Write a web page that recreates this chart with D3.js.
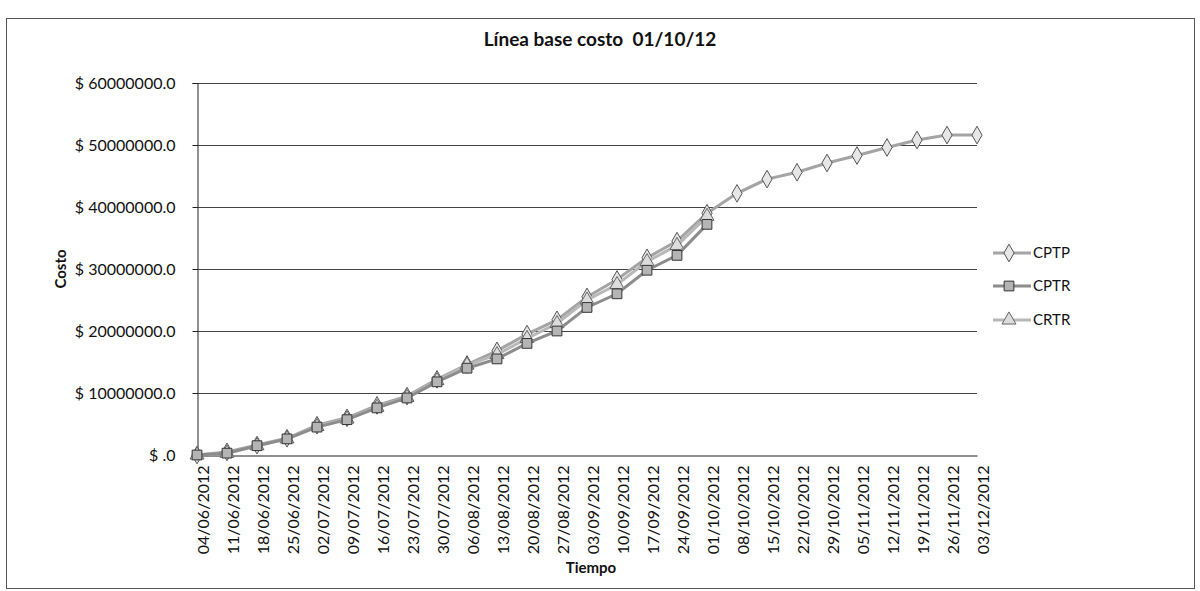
<!DOCTYPE html>
<html>
<head>
<meta charset="utf-8">
<script src="https://cdn.jsdelivr.net/npm/d3@7/dist/d3.min.js"></script>
<style>
    body { margin: 0; background: #fff; }
    svg text { font-family: Lato, "Open Sans", sans-serif; fill: #111; }
</style>
</head>
<body>
<svg id="chart" width="1200" height="591"></svg>
<script>
// weekly cut-off dates (category axis)
var DATES = ['04/06/2012', '11/06/2012', '18/06/2012', '25/06/2012', '02/07/2012', '09/07/2012', '16/07/2012',
    '23/07/2012', '30/07/2012', '06/08/2012', '13/08/2012', '20/08/2012', '27/08/2012', '03/09/2012',
    '10/09/2012', '17/09/2012', '24/09/2012', '01/10/2012', '08/10/2012', '15/10/2012', '22/10/2012',
    '29/10/2012', '05/11/2012', '12/11/2012', '19/11/2012', '26/11/2012', '03/12/2012'];

// costs in pesos
var CPTP = [0, 500000, 1600000, 2700000, 4800000, 6000000, 8000000, 9500000, 12200000, 14600000, 16800000,
    19500000, 21800000, 25500000, 28300000, 31800000, 34500000, 39000000, 42200000, 44500000, 45600000,
    47100000, 48300000, 49600000, 50800000, 51600000, 51600000];
var CPTR = [0, 300000, 1500000, 2600000, 4500000, 5700000, 7600000, 9200000, 11800000, 14000000, 15500000,
    18000000, 20000000, 23800000, 26000000, 29800000, 32200000, 37200000];
var CRTR = [0, 300000, 1500000, 2600000, 4600000, 5800000, 7700000, 9300000, 12000000, 14500000, 16200000,
    18800000, 21200000, 25000000, 27500000, 31200000, 33800000, 38500000];

var SERIES_NAMES = ['CPTP', 'CPTR', 'CRTR'];
var Y_TICKS = [0, 10000000, 20000000, 30000000, 40000000, 50000000, 60000000];

(function () {
    var svg = d3.select('#chart');
    var _plot = {left: 197, right: 977, top: 83, bottom: 455};

    var x = d3.scalePoint().domain(DATES).range([_plot.left, _plot.right]);
    var y = d3.scaleLinear().domain([0, 60000000]).range([_plot.bottom, _plot.top]);

    var _styles = {
        CPTP: {line: '#a4a4a4', fill: '#e6e6e6', stroke: '#555', shape: d3.symbolDiamond, size: 90},
        CPTR: {line: '#8c8c8c', fill: '#b4b4b4', stroke: '#333', shape: d3.symbolSquare, size: 95},
        CRTR: {line: '#b8b8b8', fill: '#dcdcdc', stroke: '#666', shape: d3.symbolTriangle, size: 85}
    };

    var _fmtCost = function (v) {
        return v === 0 ? '$ .0' : '$ ' + v.toFixed(1);
    };

    // chart frame
    svg.append('rect')
        .attr('x', 6.5).attr('y', 18.5)
        .attr('width', 1188).attr('height', 570)
        .attr('fill', '#fff').attr('stroke', '#555').attr('stroke-width', 1);

    svg.append('text')
        .attr('x', 600).attr('y', 46)
        .attr('text-anchor', 'middle')
        .style('font-size', '19px').style('font-weight', 'bold')
        .style('white-space', 'pre')
        .text('Línea base costo  01/10/12');

    // horizontal gridlines
    svg.append('g').selectAll('line')
        .data(Y_TICKS.slice(1))
        .enter().append('line')
        .attr('x1', _plot.left).attr('x2', _plot.right)
        .attr('y1', function (d) { return Math.round(y(d)) + 0.5; })
        .attr('y2', function (d) { return Math.round(y(d)) + 0.5; })
        .attr('stroke', '#444').attr('stroke-width', 1);

    // value axis
    var yAxis = svg.append('g')
        .attr('transform', 'translate(' + (_plot.left + 0.5) + ',0)')
        .call(d3.axisLeft(y).tickValues(Y_TICKS).tickFormat(_fmtCost).tickSize(5).tickPadding(17));
    yAxis.select('.domain').attr('stroke', '#222');
    yAxis.selectAll('.tick line').attr('stroke', '#222');
    yAxis.selectAll('text').style('font-size', '16px').attr('fill', '#111');

    // category axis, labels turned vertical
    var xAxis = svg.append('g')
        .attr('transform', 'translate(0,' + (_plot.bottom + 0.5) + ')')
        .call(d3.axisBottom(x).tickSize(0).tickPadding(0));
    xAxis.select('.domain').attr('stroke', '#222');
    xAxis.selectAll('text')
        .style('font-size', '16px').attr('fill', '#111')
        .attr('text-anchor', 'end')
        .attr('dy', null)
        .attr('y', 0)
        .attr('transform', 'translate(11,10) rotate(-90)');

    svg.append('text')
        .attr('transform', 'translate(66,' + ((_plot.top + _plot.bottom) / 2) + ') rotate(-90)')
        .attr('text-anchor', 'middle')
        .style('font-size', '15px').style('font-weight', 'bold')
        .text('Costo');

    svg.append('text')
        .attr('x', 591).attr('y', 573)
        .attr('text-anchor', 'middle')
        .style('font-size', '15px').style('font-weight', 'bold')
        .text('Tiempo');

    var _drawSeries = function (name, values) {
        var st = _styles[name];
        var pts = values.map(function (v, i) { return [x(DATES[i]), y(v)]; });
        var grp = svg.append('g').attr('class', 'series_' + name);
        grp.append('path')
            .attr('d', d3.line()(pts))
            .attr('fill', 'none')
            .attr('stroke', st.line)
            .attr('stroke-width', 3);
        grp.selectAll('path.mark')
            .data(pts)
            .enter().append('path')
            .attr('class', 'mark')
            .attr('d', d3.symbol().type(st.shape).size(st.size))
            .attr('transform', function (p) { return 'translate(' + p[0] + ',' + p[1] + ')'; })
            .attr('fill', st.fill)
            .attr('stroke', st.stroke)
            .attr('stroke-width', 1);
    };

    _drawSeries('CPTP', CPTP);
    _drawSeries('CRTR', CRTR);
    _drawSeries('CPTR', CPTR);

    // legend on the right
    var legendY = [253, 286, 320];
    SERIES_NAMES.forEach(function (name, i) {
        var st = _styles[name];
        var row = svg.append('g').attr('transform', 'translate(993,' + legendY[i] + ')');
        row.append('line')
            .attr('x1', 0).attr('x2', 38)
            .attr('stroke', st.line).attr('stroke-width', 3);
        row.append('path')
            .attr('d', d3.symbol().type(st.shape).size(st.size))
            .attr('transform', 'translate(16,0)')
            .attr('fill', st.fill).attr('stroke', st.stroke);
        row.append('text')
            .attr('x', 40).attr('dy', '0.35em')
            .style('font-size', '15px')
            .text(name);
    });
})();
</script>
</body>
</html>
